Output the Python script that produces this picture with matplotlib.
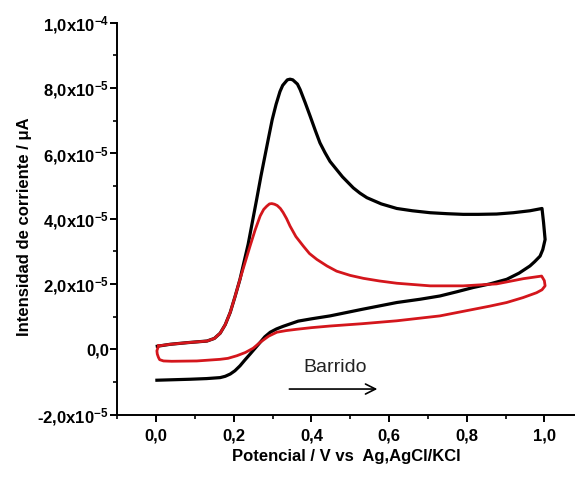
import matplotlib
matplotlib.use("Agg")
import matplotlib.pyplot as plt
from matplotlib.ticker import FixedLocator, MultipleLocator

plt.rcParams["font.family"] = ["Liberation Sans", "DejaVu Sans"]
plt.rcParams["mathtext.fontset"] = "custom"
plt.rcParams["mathtext.rm"] = "Liberation Sans:bold"
plt.rcParams["mathtext.bf"] = "Liberation Sans:bold"
plt.rcParams["mathtext.default"] = "bf"

# black voltammogram (potential in V, current in units of 1e-5)
black_v = [0.003, 0.036, 0.080, 0.131, 0.150, 0.165, 0.178, 0.191, 0.203, 0.216,
           0.226, 0.237, 0.248, 0.259, 0.270, 0.281, 0.290, 0.299, 0.309, 0.319,
           0.326, 0.338, 0.345, 0.352, 0.364, 0.371, 0.384, 0.397, 0.410, 0.422,
           0.435, 0.448, 0.465, 0.480, 0.508, 0.525, 0.543, 0.580, 0.620, 0.660,
           0.706, 0.750, 0.791, 0.830, 0.877, 0.920, 0.963, 0.994,
           0.998, 1.002, 0.996, 0.989, 0.975, 0.963, 0.935, 0.903, 0.860, 0.817,
           0.775, 0.731, 0.680, 0.620, 0.530, 0.448, 0.400, 0.366, 0.327, 0.310,
           0.294, 0.280, 0.268, 0.255, 0.242, 0.228, 0.216, 0.203, 0.191, 0.178,
           0.165, 0.130, 0.088, 0.002]
black_i = [0.09, 0.15, 0.20, 0.25, 0.33, 0.49, 0.75, 1.13, 1.60, 2.14,
           2.65, 3.21, 3.90, 4.59, 5.30, 5.96, 6.50, 7.03, 7.50, 7.89,
           8.08, 8.25, 8.27, 8.25, 8.12, 7.95, 7.55, 7.13, 6.70, 6.32,
           6.02, 5.75, 5.50, 5.28, 4.94, 4.78, 4.64, 4.45, 4.31, 4.24,
           4.18, 4.15, 4.13, 4.13, 4.14, 4.18, 4.24, 4.31,
           3.88, 3.36, 3.05, 2.85, 2.68, 2.55, 2.33, 2.14, 2.00, 1.89,
           1.76, 1.63, 1.53, 1.43, 1.22, 1.02, 0.93, 0.86, 0.70, 0.62,
           0.52, 0.38, 0.21, 0.03, -0.15, -0.34, -0.51, -0.66, -0.76, -0.83,
           -0.87, -0.90, -0.92, -0.95]

# red voltammogram
red_v = [0.006, 0.036, 0.080, 0.131, 0.150, 0.165, 0.178, 0.191, 0.203, 0.216,
         0.229, 0.242, 0.255, 0.268, 0.277, 0.285, 0.292, 0.298, 0.305, 0.312,
         0.320, 0.327, 0.336, 0.345, 0.360, 0.379, 0.395, 0.414, 0.440, 0.465,
         0.500, 0.534, 0.575, 0.620, 0.706, 0.791, 0.877, 0.946, 0.993, 1.000,
         1.002, 0.994, 0.980, 0.945, 0.903, 0.860, 0.817, 0.731, 0.620, 0.530,
         0.448, 0.400, 0.362, 0.335, 0.311, 0.290, 0.268, 0.250, 0.230, 0.208,
         0.185, 0.165, 0.105, 0.040, 0.019, 0.009, 0.006, 0.003, 0.002, 0.006]
red_i = [0.10, 0.15, 0.20, 0.25, 0.33, 0.49, 0.75, 1.13, 1.60, 2.14,
         2.65, 3.16, 3.65, 4.08, 4.28, 4.38, 4.45, 4.46, 4.44, 4.40,
         4.31, 4.19, 4.00, 3.77, 3.45, 3.16, 2.93, 2.75, 2.55, 2.39,
         2.26, 2.17, 2.09, 2.02, 1.94, 1.94, 2.00, 2.16, 2.24, 2.10,
         1.94, 1.82, 1.73, 1.58, 1.43, 1.32, 1.22, 1.02, 0.87, 0.78,
         0.71, 0.66, 0.61, 0.57, 0.52, 0.40, 0.21, 0.03, -0.10, -0.20,
         -0.28, -0.31, -0.36, -0.37, -0.36, -0.32, -0.25, -0.15, -0.05, 0.10]

x_ticks = [0.0, 0.2, 0.4, 0.6, 0.8, 1.0]
x_labels = ["0,0", "0,2", "0,4", "0,6", "0,8", "1,0"]
y_ticks = [-2e-5, 0.0, 2e-5, 4e-5, 6e-5, 8e-5, 1e-4]
y_labels = [r"-2,0x10$^{-5}$", "0,0", r"2,0x10$^{-5}$", r"4,0x10$^{-5}$",
            r"6,0x10$^{-5}$", r"8,0x10$^{-5}$", r"1,0x10$^{-4}$"]

fig = plt.figure(figsize=(5.75, 4.79), dpi=100)
ax = fig.add_axes([117.3 / 575, 1 - 414.5 / 479, 1 - 117.3 / 575, (414.5 - 22.7) / 479])

ax.plot(black_v, [v * 1e-5 for v in black_i], color="black", lw=2.3, solid_joinstyle="round")
ax.plot(red_v, [v * 1e-5 for v in red_i], color="#d4161c", lw=2.0, solid_joinstyle="round")

ax.set_xlim(-0.1, 1.079)
ax.set_ylim(-2e-5, 1e-4)

ax.xaxis.set_major_locator(FixedLocator(x_ticks))
ax.set_xticklabels(x_labels)
ax.xaxis.set_minor_locator(MultipleLocator(0.1))
ax.yaxis.set_major_locator(FixedLocator(y_ticks))
ax.set_yticklabels(y_labels)
ax.yaxis.set_minor_locator(MultipleLocator(1e-5))

for side in ["top", "right"]:
    ax.spines[side].set_visible(False)
for side in ["left", "bottom"]:
    ax.spines[side].set_linewidth(1.4)

ax.tick_params(which="major", direction="out", length=5, width=1.4)
ax.tick_params(which="minor", direction="out", length=3, width=1.2)
ax.tick_params(axis="x", which="major", pad=5, labelsize=12)
ax.tick_params(axis="y", which="major", pad=1, labelsize=12)
for lab in ax.get_xticklabels() + ax.get_yticklabels():
    lab.set_fontweight("bold")

ax.set_xlabel("Potencial / V vs  Ag,AgCl/KCl", fontsize=12, fontweight="bold")
ax.xaxis.set_label_coords(0.5, -0.088)
ax.set_ylabel("Intensidad de corriente / \u03bcA", fontsize=12, fontweight="bold")
ax.yaxis.set_label_coords(-0.186, 0.48)

ax.text(0.46, -0.55e-5, "Barrido", fontsize=14, ha="center", va="center", color="#222222")
ax.annotate("", xy=(0.577, -1.22e-5), xytext=(0.336, -1.22e-5),
            arrowprops=dict(arrowstyle="->", lw=1.2, color="black", mutation_scale=18))

fig.savefig("out.png", dpi=100)
